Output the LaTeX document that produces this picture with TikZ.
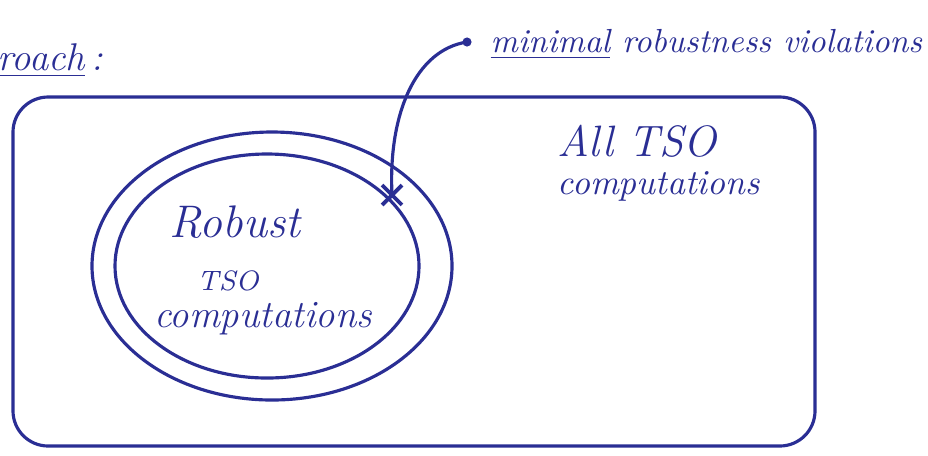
\documentclass[tikz,border=0pt]{standalone}
\usepackage{tikz}
\usetikzlibrary{arrows,shapes.geometric,shapes.misc,positioning}
\definecolor{pen}{RGB}{42,46,148}
\tikzstyle{ink} = [draw=pen, line width=0.9pt, line cap=round]
\tikzstyle{hand} = [text=pen, inner sep=0pt, font=\itshape]
\tikzstyle{setline} = [ellipse, draw=pen, line width=0.9pt, inner sep=0pt]
\tikzstyle{violx} = [cross out, draw=pen, line width=1.1pt, minimum size=0.16cm, inner sep=0pt]

\begin{document}
\begin{tikzpicture}[scale=1]
  \def\xall{4.14,1.835}
  \def\xrob{2.72,1.89}
  \def\xinn{2.67,1.89}
  \def\xv{3.92,2.60}
  \def\xtail{4.67,4.13}
  \useasboundingbox (0,0) rectangle (9.28,4.55);
  \node[hand,anchor=base west,font=\itshape\fontsize{11}{13}\selectfont] (approach) at (-0.03,3.85) {\underline{roach}\,:};
  \node[draw=pen,line width=0.9pt,rounded corners=10pt,minimum width=8.02cm,minimum height=3.49cm] (alltso) at (\xall) {};
  \node[setline,minimum width=3.60cm,minimum height=2.68cm] (outerset) at (\xrob) {};
  \node[setline,minimum width=3.04cm,minimum height=2.24cm] (innerset) at (\xinn) {};
  % labels of the two sets
  \node[hand,anchor=base west,font=\itshape\fontsize{12.5}{15}\selectfont] (alltitle) at (5.57,2.99) {All TSO};
  \node[hand,anchor=base west,font=\itshape\fontsize{10}{12}\selectfont] (allcomp) at (5.57,2.61) {computations};
  \node[hand,anchor=base,font=\itshape\fontsize{13}{15}\selectfont] (robtitle) at (2.35,2.18) {Robust};
  \node[hand,anchor=base,font=\itshape\fontsize{8}{10}\selectfont] (robtso) at (2.28,1.65) {TSO};
  \node[hand,anchor=base,font=\itshape\fontsize{11}{13}\selectfont] (robcomp) at (2.63,1.28) {computations};
  % violations
  \node[violx] (viol) at (\xv) {};
  \node[hand,anchor=base west,font=\itshape\fontsize{9.5}{12}\selectfont] (minviol) at (4.90,4.03) {\underline{minimal} robustness violations};
  \coordinate (tail) at (\xtail);
  \fill[pen] (tail) circle (1.3pt);
  \draw[ink] (tail) .. controls (4.15,4.05) and (3.88,3.4) .. (viol.center);
\end{tikzpicture}
\end{document}
